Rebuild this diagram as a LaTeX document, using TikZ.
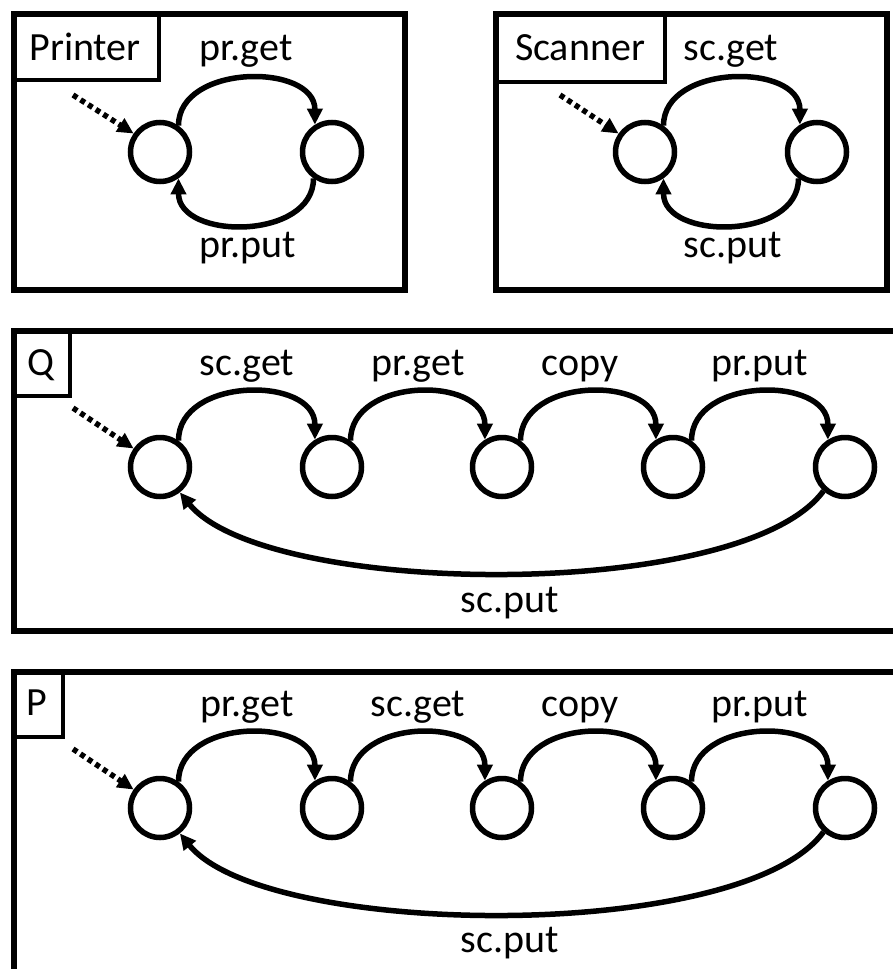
\documentclass[tikz,border=0pt]{standalone}
\usepackage{fontspec}
\setmainfont{Carlito}
\usetikzlibrary{arrows.meta}
\begin{document}
\begin{tikzpicture}[x=1pt,y=-1pt,
  frame/.style={line width=6pt,line join=miter},
  tag/.style={draw,line width=3.5pt},
  state/.style={circle,draw,line width=5.5pt,minimum size=59pt,inner sep=0pt},
  edge/.style={line width=5.5pt,-{Triangle[length=16pt,width=15pt]}},
  init/.style={line width=5.5pt,dash pattern=on 5pt off 4pt,-{Triangle[length=16pt,width=15pt]}},
  lbl/.style={font=\fontsize{40}{48}\selectfont,inner sep=0pt,anchor=base}
]
\useasboundingbox (0,0) rectangle (893,969);

% ---------- Printer ----------
\draw[frame] (14,14) rectangle (405,290);
\draw[tag] (14,14) rectangle (159,80);
\node[lbl] (prname) at (85,60) {Printer};
\node[state] (p1) at (160,152) {};
\node[state] (p2) at (332,152) {};
\coordinate (pin) at (73,95);
\draw[init] (pin) -- (p1.145);
\draw[edge] (p1.55) .. controls +(0,-62) and +(0,-62) .. (p2.122);
\draw[edge] (p2.-125) .. controls +(0,62) and +(0,62) .. (p1.-55);
\node[lbl] (prget) at (246,60) {pr.get};
\node[lbl] (prput) at (248,257) {pr.put};

% ---------- Scanner ----------
\draw[frame] (496,14) rectangle (887,290);
\draw[tag] (496,14) rectangle (665,82);
\node[lbl] (scname) at (580,60) {Scanner};
\node[state] (s1) at (645,152) {};
\node[state] (s2) at (817,152) {};
\coordinate (sin) at (560,95);
\draw[init] (sin) -- (s1.145);
\draw[edge] (s1.55) .. controls +(0,-62) and +(0,-62) .. (s2.122);
\draw[edge] (s2.-125) .. controls +(0,62) and +(0,62) .. (s1.-55);
\node[lbl] (scget) at (731,60) {sc.get};
\node[lbl] (scput) at (733,257) {sc.put};

% ---------- Q ----------
\draw[frame] (900,331) -- (14,331) -- (14,631) -- (900,631);
\draw[tag] (14,331) rectangle (70,396);
\node[lbl] (qname) at (41,375) {Q};
\foreach \i/\x in {1/160,2/332,3/502,4/673,5/845}
  \node[state] (q\i) at (\x,467) {};
\coordinate (qin) at (73,408);
\draw[init] (qin) -- (q1.145);
\foreach \a/\b in {1/2,2/3,3/4,4/5}
  \draw[edge] (q\a.55) .. controls +(0,-64) and +(0,-64) .. (q\b.122);
\draw[edge] (q5.-132) .. controls +(-82,112) and +(85,105) .. (q1.-52);
\node[lbl] at (247,375) {sc.get};
\node[lbl] at (418,375) {pr.get};
\node[lbl] at (580,375) {copy};
\node[lbl] at (760,375) {pr.put};
\node[lbl] at (510,612) {sc.put};

% ---------- P ----------
\draw[frame] (900,672) -- (14,672) -- (14,980);
\draw[tag] (14,672) rectangle (63,737);
\node[lbl] (pname) at (37,715) {P};
\foreach \i/\x in {1/160,2/332,3/502,4/673,5/845}
  \node[state] (r\i) at (\x,808) {};
\coordinate (rin) at (73,749);
\draw[init] (rin) -- (r1.145);
\foreach \a/\b in {1/2,2/3,3/4,4/5}
  \draw[edge] (r\a.55) .. controls +(0,-64) and +(0,-64) .. (r\b.122);
\draw[edge] (r5.-132) .. controls +(-82,112) and +(85,105) .. (r1.-52);
\node[lbl] at (247,716) {pr.get};
\node[lbl] at (418,716) {sc.get};
\node[lbl] at (580,716) {copy};
\node[lbl] at (760,716) {pr.put};
\node[lbl] at (510,952) {sc.put};
\end{tikzpicture}
\end{document}
